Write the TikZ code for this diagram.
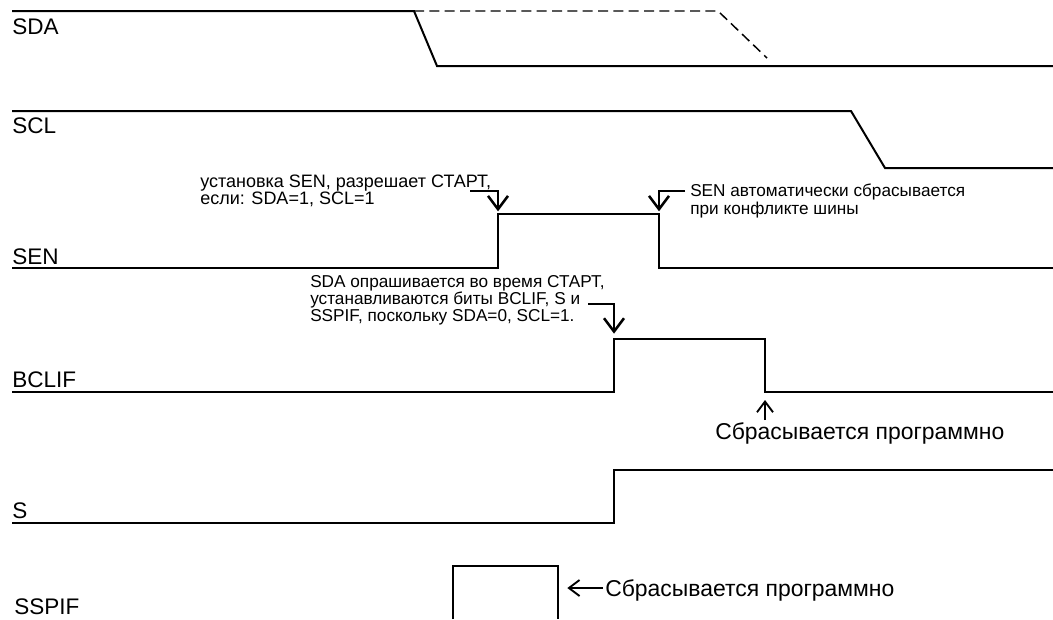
\documentclass[tikz,border=0pt]{standalone}
\usepackage{fontspec}
\setmainfont{Liberation Sans}
\usetikzlibrary{arrows.meta}

\tikzset{
    signal/.style={line width=1.5pt},
    ghost/.style={line width=1.1pt, dash pattern=on 7.5pt off 4pt},
    siglabel/.style={anchor=base west, inner sep=0pt, font=\fontsize{16.9}{18}\selectfont},
    note/.style={anchor=north west, inner sep=0pt, align=left, font=\fontsize{12.9}{13}\selectfont},
    bignote/.style={anchor=north west, inner sep=0pt, font=\fontsize{17.2}{18}\selectfont},
    pointer/.style={line width=0.8pt, -{Straight Barb[length=10pt,width=15pt,line width=1.9pt]}},
    smallpointer/.style={line width=1pt, -{Straight Barb[length=8pt,width=12pt,line width=1.4pt]}}
}

\begin{document}
\begin{tikzpicture}[x=0.75pt,y=-0.75pt]
    \useasboundingbox (0,0) rectangle (1053,619);

    \coordinate (senup) at (498,214);
    \coordinate (sendown) at (659,214);
    \coordinate (bclifup) at (614,339);
    \coordinate (bclifdown) at (765,392);
    \coordinate (sspifright) at (558,588);

    \coordinate (setfoot) at (470,191);
    \coordinate (lostfoot) at (685,191);
    \coordinate (pollfoot) at (588,304);
    \coordinate (bcliffoot) at (765,420);
    \coordinate (sspiffoot) at (603,588);

    \draw [signal] (12,11) -- (414,11) -- (437,66) -- (1053,66);
    \draw [ghost] (414,11) -- (718,11) -- (767,58);
    \draw [signal] (12,111) -- (851,111) -- (885,168) -- (1053,168);
    \draw [signal] (12,268) -- (senup |- 0,268) -- (senup) -- (sendown) -- (sendown |- 0,268) -- (1053,268);
    \draw [signal] (12,392) -- (bclifup |- bclifdown) -- (bclifup) -- (bclifdown |- bclifup) -- (bclifdown) -- (1053,392);
    \draw [signal] (12,523) -- (614,523) -- (614,470) -- (1053,470);
    \draw [line width=1.2pt] (453,619) -- (453,566) -- (558,566) -- (558,619);

    \node[siglabel] (sda) at (12,34) {SDA};
    \node[siglabel] (scl) at (12,133) {SCL};
    \node[siglabel] (sen) at (12,264) {SEN};
    \node[siglabel] (bclif) at (12,387) {BCLIF};
    \node[siglabel] (s) at (12,518) {S};
    \node[siglabel] (sspif) at (14,614) {SSPIF};

    \node[note, font=\fontsize{13.5}{12.6}\selectfont] (noteset) at (200,175) {установка SEN, разрешает СТАРТ,\\если: SDA=1, SCL=1};
    \node[note] (notelost) at (690,184) {SEN автоматически сбрасывается\\при конфликте шины};
    \node[note] (notepoll) at (310,275) {SDA опрашивается во время СТАРТ,\\устанавливаются биты BCLIF, S и\\SSPIF, поскольку SDA=0, SCL=1.};
    \node[bignote] (notebclif) at (715,422) {Сбрасывается программно};
    \node[bignote] (notesspif) at (605,579) {Сбрасывается программно};

    \draw [pointer] (setfoot) -| ([yshift=2]senup);
    \draw [pointer] (lostfoot) -| ([yshift=2]sendown);
    \draw [pointer] (pollfoot) -| ([yshift=4]bclifup);
    \draw [smallpointer] (bcliffoot) -- ([yshift=-6]bclifdown);
    \draw [smallpointer] (sspiffoot) -- ([xshift=7]sspifright);
\end{tikzpicture}
\end{document}
